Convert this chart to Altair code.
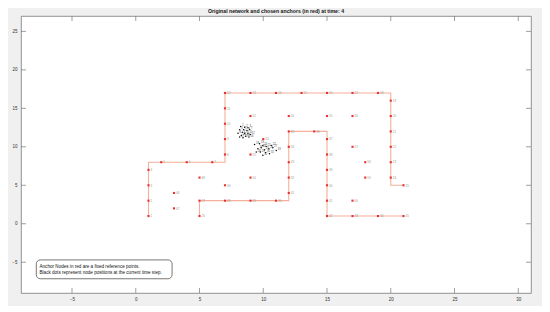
import altair as alt
import pandas as pd

TITLE = "Original network and chosen anchors (in red) at time: 4"
LEGEND_LINES = ["Anchor Nodes in red are a fixed reference points.",
                "Black dots represent node positions at the current time step."]

x_ticks = [-5, 0, 5, 10, 15, 20, 25, 30]
y_ticks = [-5, 0, 5, 10, 15, 20, 25]
x_domain = [-9, 31]
y_domain = [-9, 27]

# network paths (vertices in order)
path1_x = [1, 1, 7, 7, 20, 20, 21]
path1_y = [1, 8, 8, 17, 17, 5, 5]
path2_x = [5, 5, 12, 12, 15, 15, 21]
path2_y = [1, 3, 3, 12, 12, 1, 1]

# anchor nodes
anchor_x = [1, 1, 1, 1, 2, 4, 6, 7, 7, 7, 7, 7, 9, 11, 13, 15, 17, 19, 20, 20, 20, 20, 20, 20, 21,
            5, 5, 7, 9, 11, 12, 12, 12, 12, 12, 14, 15, 15, 15, 15, 15, 15, 17, 19, 21,
            3, 3, 5, 7, 9, 9, 9, 10, 12, 15, 17, 17, 18, 18, 17]
anchor_y = [1, 3, 5, 7, 8, 8, 8, 9, 11, 13, 15, 17, 17, 17, 17, 17, 17, 17, 16, 14, 12, 10, 8, 6, 5,
            1, 3, 3, 3, 3, 4, 6, 8, 10, 12, 12, 11, 9, 7, 5, 3, 1, 1, 1, 1,
            4, 2, 6, 5, 6, 9, 14, 11, 14, 14, 14, 10, 8, 6, 3]

# unknown nodes (black dots)
node_x = [8.23, 8.54, 8.80, 8.15, 8.46, 8.72, 8.93, 8.02, 8.36, 8.54, 8.80, 8.98, 8.28, 8.62, 8.41, 8.88, 8.15,
          9.32, 9.71, 9.97, 10.23, 10.63, 9.58, 9.84, 10.10, 10.44, 10.75, 9.45, 9.77, 10.18, 10.49, 9.97, 11.02]
node_y = [12.64, 12.55, 12.47, 12.21, 12.21, 12.12, 12.25, 11.77, 11.90, 11.77, 11.69, 11.60, 11.47, 11.38, 11.17, 11.26, 11.26,
          10.31, 10.40, 10.18, 10.05, 10.18, 9.75, 9.88, 9.62, 9.75, 9.88, 9.31, 9.31, 9.23, 9.10, 8.89, 9.53]

legend_box_x = [-7.8, 2.85]
legend_box_y = [-4.7, -7.15]
legend_text_x = -7.55
legend_text_y = [-5.6, -6.35]

FONT = "Liberation Sans"
W, H = 510, 277

paths = pd.DataFrame(
    [{"path": "p1", "order": i, "x": x, "y": y} for i, (x, y) in enumerate(zip(path1_x, path1_y))] +
    [{"path": "p2", "order": i, "x": x, "y": y} for i, (x, y) in enumerate(zip(path2_x, path2_y))]
)
anchors = pd.DataFrame({"x": anchor_x, "y": anchor_y,
                        "label": [str(i + 1) for i in range(len(anchor_x))]})
nodes = pd.DataFrame({"x": node_x, "y": node_y,
                      "label": [str(i + 1) for i in range(len(node_x))]})

xs = alt.Scale(domain=x_domain, nice=False, zero=False)
ys = alt.Scale(domain=y_domain, nice=False, zero=False)

xaxis = alt.Axis(values=x_ticks, title=None, grid=False, ticks=False, domain=False,
                 labelFontSize=4.5, labelColor="#333", labelPadding=3, labelFont=FONT)
yaxis = alt.Axis(values=y_ticks, title=None, grid=False, ticks=False, domain=False,
                 labelFontSize=4.5, labelColor="#333", labelPadding=4, labelFont=FONT)

base_lines = alt.Chart(paths).mark_line(color="#f29478", strokeWidth=1.1, opacity=0.75).encode(
    x=alt.X("x:Q", scale=xs, axis=xaxis),
    y=alt.Y("y:Q", scale=ys, axis=yaxis),
    detail="path:N",
    order="order:Q",
)

anchor_pts = alt.Chart(anchors).mark_square(color="#e8282a", size=4.5, opacity=0.95).encode(
    x=alt.X("x:Q", scale=xs), y=alt.Y("y:Q", scale=ys))
anchor_lbl = alt.Chart(anchors).mark_text(fontSize=3, color="#999", align="left", dx=2, font=FONT).encode(
    x=alt.X("x:Q", scale=xs), y=alt.Y("y:Q", scale=ys), text="label:N")

node_pts = alt.Chart(nodes).mark_circle(color="black", size=2.2, opacity=1).encode(
    x=alt.X("x:Q", scale=xs), y=alt.Y("y:Q", scale=ys))
node_lbl = alt.Chart(nodes).mark_text(fontSize=2.6, color="#444", align="left", dx=1.5, dy=-1, font=FONT).encode(
    x=alt.X("x:Q", scale=xs), y=alt.Y("y:Q", scale=ys), text="label:N")

xt = pd.DataFrame({"t": x_ticks})
yt = pd.DataFrame({"t": y_ticks})
tick_style = dict(color="#777", strokeWidth=0.7)
xtick_b = alt.Chart(xt).mark_rule(**tick_style).encode(
    x=alt.X("t:Q", scale=xs), y=alt.value(H), y2=alt.value(H - 5))
xtick_t = alt.Chart(xt).mark_rule(**tick_style).encode(
    x=alt.X("t:Q", scale=xs), y=alt.value(0), y2=alt.value(5))
ytick_l = alt.Chart(yt).mark_rule(**tick_style).encode(
    y=alt.Y("t:Q", scale=ys), x=alt.value(0), x2=alt.value(5))
ytick_r = alt.Chart(yt).mark_rule(**tick_style).encode(
    y=alt.Y("t:Q", scale=ys), x=alt.value(W), x2=alt.value(W - 5))

lbox = pd.DataFrame({"x": [legend_box_x[0]], "x2": [legend_box_x[1]],
                     "y": [legend_box_y[0]], "y2": [legend_box_y[1]]})
legend_rect = alt.Chart(lbox).mark_rect(fill="white", stroke="#555", strokeWidth=0.8, cornerRadius=4).encode(
    x=alt.X("x:Q", scale=xs), x2="x2:Q", y=alt.Y("y:Q", scale=ys), y2="y2:Q")
ltext = pd.DataFrame({"x": [legend_text_x] * len(LEGEND_LINES), "y": legend_text_y, "t": LEGEND_LINES})
legend_txt = alt.Chart(ltext).mark_text(fontSize=4.6, color="#111", align="left", baseline="middle", font=FONT).encode(
    x=alt.X("x:Q", scale=xs), y=alt.Y("y:Q", scale=ys), text="t:N")

chart = alt.layer(
    base_lines, anchor_pts, anchor_lbl, node_pts, node_lbl,
    xtick_b, xtick_t, ytick_l, ytick_r, legend_rect, legend_txt
).properties(
    width=W, height=H,
    title=alt.TitleParams(TITLE, fontSize=5.2, fontWeight="bold", font=FONT, color="#111", offset=1, anchor="middle"),
    background="#f0f0f0",
    padding={"left": 13, "top": 8, "right": 11, "bottom": 13},
    autosize=alt.AutoSizeParams(type="none"),
).configure_view(
    fill="white", stroke="#777", strokeWidth=0.8
)

chart.save("out.html", embed_options={"renderer": "svg", "actions": False})
